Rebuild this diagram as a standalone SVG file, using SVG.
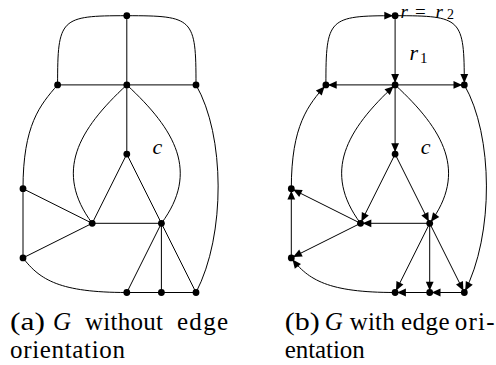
<svg xmlns="http://www.w3.org/2000/svg" width="496" height="365" viewBox="0 0 496 365">
<style>
.e{fill:none;stroke:#000;stroke-width:1}
.d{marker-end:url(#arr)}
.n{fill:#000}
.t{font-family:"Liberation Serif","DejaVu Serif",serif;fill:#000}
.m{font-family:"Liberation Serif","DejaVu Serif",serif;font-style:italic;fill:#000}
.cap{font-family:"Liberation Serif","DejaVu Serif",serif;font-size:25px;fill:#000}
</style>
<defs>
<marker id="arr" viewBox="-12 -5 12 10" refX="0" refY="0" markerWidth="12" markerHeight="10" markerUnits="userSpaceOnUse" orient="auto">
<path d="M-2,0 L-10.8,-3.9 L-10.8,3.9 Z" fill="#000"/>
</marker>
</defs>

<!-- (a) G without orientation -->
<g id="graph-a">
<g id="edges-a">
<path class="e" d="M126.8,15.7 C60,15.7 57.6,18 57.6,84.9"/>
<path class="e" d="M126.8,15.7 C193.6,15.7 196,18 196,84.9"/>
<path class="e" d="M126.8,15.7 L126.8,84.9"/>
<path class="e" d="M57.6,84.9 L196,84.9"/>
<path class="e" d="M57.6,84.9 C40,105 23,125 23,188.7"/>
<path class="e" d="M23,188.7 L23,257.9"/>
<path class="e" d="M23,188.7 L92.2,223.3"/>
<path class="e" d="M23,257.9 L92.2,223.3"/>
<path class="e" d="M23,257.9 C40,280 60,292.5 126.8,292.5"/>
<path class="e" d="M126.8,84.9 L126.8,154.1"/>
<path class="e" d="M126.8,154.1 L92.2,223.3"/>
<path class="e" d="M126.8,154.1 L161.4,223.3"/>
<path class="e" d="M92.2,223.3 L161.4,223.3"/>
<path class="e" d="M126.8,84.9 C78,130 54,172 92.2,223.3"/>
<path class="e" d="M126.8,84.9 C175.6,130 199.6,172 161.4,223.3"/>
<path class="e" d="M196,84.9 C225,135 226,235 196,292.5"/>
<path class="e" d="M161.4,223.3 L126.8,292.5"/>
<path class="e" d="M161.4,223.3 L161.4,292.5"/>
<path class="e" d="M161.4,223.3 L196,292.5"/>
<path class="e" d="M126.8,292.5 L196,292.5"/>
</g>
<g id="nodes-a" class="n">
<circle id="a-T" cx="126.8" cy="15.7" r="3.4"/>
<circle id="a-L" cx="57.6" cy="84.9" r="3.4"/>
<circle id="a-M" cx="126.8" cy="84.9" r="3.4"/>
<circle id="a-R" cx="196" cy="84.9" r="3.4"/>
<circle id="a-C" cx="126.8" cy="154.1" r="3.4"/>
<circle id="a-LL1" cx="23" cy="188.7" r="3.4"/>
<circle id="a-LL2" cx="23" cy="257.9" r="3.4"/>
<circle id="a-P" cx="92.2" cy="223.3" r="3.4"/>
<circle id="a-Q" cx="161.4" cy="223.3" r="3.4"/>
<circle id="a-B1" cx="126.8" cy="292.5" r="3.4"/>
<circle id="a-B2" cx="161.4" cy="292.5" r="3.4"/>
<circle id="a-B3" cx="196" cy="292.5" r="3.4"/>
</g>
<text class="m" font-size="22" x="152.5" y="154">c</text>
</g>

<!-- (b) G with orientation -->
<g id="graph-b" transform="translate(268.3,0)">
<g id="edges-b">
<path class="e d" d="M57.6,84.9 C57.6,18 60,15.7 126.8,15.7"/>
<path class="e d" d="M126.8,15.7 C193.6,15.7 196,18 196,84.9"/>
<path class="e d" d="M126.8,15.7 L126.8,84.9"/>
<path class="e d" d="M126.8,84.9 L57.6,84.9"/>
<path class="e d" d="M126.8,84.9 L196,84.9"/>
<path class="e d" d="M23,188.7 C23,125 40,105 57.6,84.9"/>
<path class="e d" d="M23,257.9 L23,188.7"/>
<path class="e d" d="M92.2,223.3 L23,188.7"/>
<path class="e d" d="M92.2,223.3 L23,257.9"/>
<path class="e d" d="M126.8,292.5 C60,292.5 40,280 23,257.9"/>
<path class="e d" d="M126.8,84.9 L126.8,154.1"/>
<path class="e d" d="M126.8,154.1 L92.2,223.3"/>
<path class="e d" d="M126.8,154.1 L161.4,223.3"/>
<path class="e d" d="M161.4,223.3 L92.2,223.3"/>
<path class="e d" d="M92.2,223.3 C54,172 78,130 126.8,84.9"/>
<path class="e d" d="M126.8,84.9 C175.6,130 199.6,172 161.4,223.3"/>
<path class="e d" d="M196,84.9 C225,135 226,235 196,292.5"/>
<path class="e d" d="M161.4,223.3 L126.8,292.5"/>
<path class="e d" d="M161.4,223.3 L161.4,292.5"/>
<path class="e d" d="M161.4,223.3 L196,292.5"/>
<path class="e d" d="M161.4,292.5 L126.8,292.5"/>
<path class="e d" d="M196,292.5 L161.4,292.5"/>
</g>
<g id="nodes-b" class="n">
<circle id="b-T" cx="126.8" cy="15.7" r="3.4"/>
<circle id="b-L" cx="57.6" cy="84.9" r="3.4"/>
<circle id="b-M" cx="126.8" cy="84.9" r="3.4"/>
<circle id="b-R" cx="196" cy="84.9" r="3.4"/>
<circle id="b-C" cx="126.8" cy="154.1" r="3.4"/>
<circle id="b-LL1" cx="23" cy="188.7" r="3.4"/>
<circle id="b-LL2" cx="23" cy="257.9" r="3.4"/>
<circle id="b-P" cx="92.2" cy="223.3" r="3.4"/>
<circle id="b-Q" cx="161.4" cy="223.3" r="3.4"/>
<circle id="b-B1" cx="126.8" cy="292.5" r="3.4"/>
<circle id="b-B2" cx="161.4" cy="292.5" r="3.4"/>
<circle id="b-B3" cx="196" cy="292.5" r="3.4"/>
</g>
<text class="m" font-size="22" x="152.5" y="154">c</text>
</g>

<g id="labels-b">
<text class="m" font-size="19" x="400.5" y="17.5">r</text>
<text class="t" font-size="19" x="415" y="17.5">=</text>
<text class="m" font-size="19" x="435.5" y="17.5">r</text>
<text class="t" font-size="14" x="447" y="19">2</text>
<text class="m" font-size="22" x="409.5" y="60">r</text>
<text class="t" font-size="15" x="420" y="63.3">1</text>
</g>

<g id="captions">
<text class="cap" y="329.5"><tspan x="10" textLength="35" lengthAdjust="spacingAndGlyphs">(a)</tspan><tspan x="53" font-style="italic">G</tspan><tspan x="85" textLength="78" lengthAdjust="spacing">without</tspan><tspan x="177" textLength="51" lengthAdjust="spacing">edge</tspan></text>
<text class="cap" x="10" y="358" textLength="115" lengthAdjust="spacing">orientation</text>
<text class="cap" y="329.5"><tspan x="284.7" textLength="35" lengthAdjust="spacingAndGlyphs">(b)</tspan><tspan x="324.7" font-style="italic">G</tspan><tspan x="349.7" textLength="45" lengthAdjust="spacing">with</tspan><tspan x="401" textLength="48.7" lengthAdjust="spacing">edge</tspan><tspan x="454.7" textLength="40" lengthAdjust="spacing">ori-</tspan></text>
<text class="cap" x="284.7" y="358" textLength="80" lengthAdjust="spacing">entation</text>
</g>
</svg>
